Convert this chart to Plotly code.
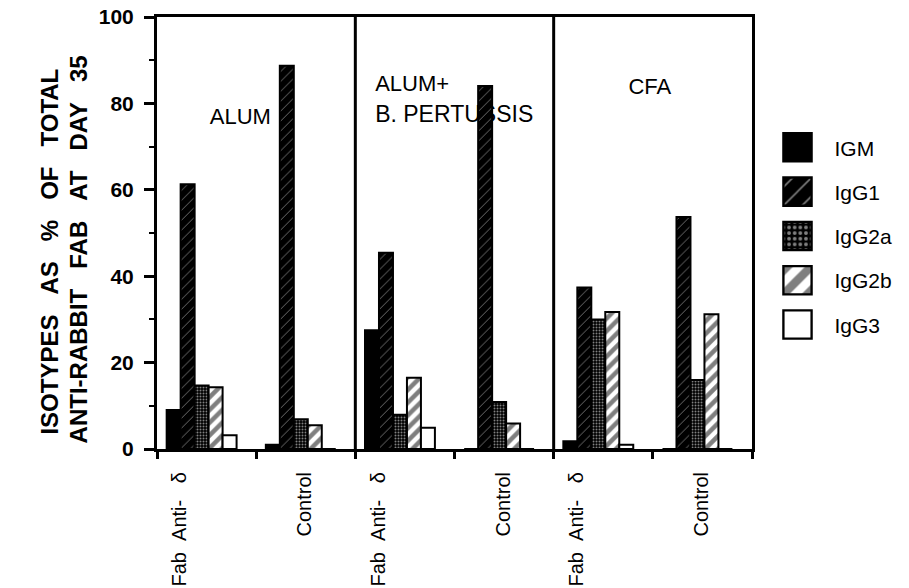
import plotly.graph_objects as go

# Isotype distribution of anti-rabbit Fab antibody at day 35
adjuvants = ["ALUM", "ALUM+ B. PERTUSSIS", "CFA"]
treatments = ["Fab\u00a0\u00a0Anti-\u00a0\u00a0\u00a0δ", "Control"]
isotypes = ["IGM", "IgG1", "IgG2a", "IgG2b", "IgG3"]

# values per isotype, groups ordered: ALUM Fab, ALUM Ctrl, ALUM+BP Fab, ALUM+BP Ctrl, CFA Fab, CFA Ctrl
igm = [9.0, 1.0, 27.5, 0.0, 1.8, 0.0]
igg1 = [61.3, 88.7, 45.4, 84.0, 37.4, 53.7]
igg2a = [14.7, 6.9, 7.9, 10.9, 30.0, 16.0]
igg2b = [14.3, 5.5, 16.5, 5.9, 31.7, 31.2]
igg3 = [3.2, 0.0, 4.9, 0.0, 1.0, 0.0]

y_ticks = [0, 20, 40, 60, 80, 100]

series = [igm, igg1, igg2a, igg2b, igg3]
patterns = [
    dict(shape="", bgcolor="black", fgcolor="black"),
    dict(shape="/", bgcolor="black", fgcolor="white", size=7, solidity=0.12),
    dict(shape=".", bgcolor="black", fgcolor="white", size=3, solidity=0.35),
    dict(shape="/", bgcolor="white", fgcolor="black", size=9, solidity=0.5),
    dict(shape="", bgcolor="white", fgcolor="white"),
]
fills = ["black", "black", "black", "white", "white"]

n_groups = len(adjuvants) * len(treatments)
group_x = [g + 0.45 for g in range(n_groups)]
label_x = [g + (0.23 if g % 2 == 0 else 0.49) for g in range(n_groups)]
label_text = [treatments[g % 2] for g in range(n_groups)]

FONT = "Liberation Sans, Arial, Helvetica, sans-serif"

fig = go.Figure()
for name, vals, pat, fill in zip(isotypes, series, patterns, fills):
    fig.add_trace(go.Bar(
        x=group_x, y=vals, name=name, legendgroup=name,
        marker=dict(color=fill, line=dict(color="black", width=2), pattern=pat),
    ))

# divider lines between adjuvant panels
for d in range(1, len(adjuvants)):
    fig.add_shape(type="line", xref="x", yref="y", x0=2 * d, x1=2 * d, y0=0, y1=100,
                  line=dict(color="black", width=3))

# adjuvant panel titles, drawn beneath the bars
panel_titles = [
    ("ALUM", 0.84, 77.5, "center", 22),
    ("ALUM+", 2.2, 85.1, "left", 22),
    ("B. PERTUSSIS", 2.2, 77.9, "left", 23),
    ("CFA", 4.97, 84.3, "center", 22),
]
for text, px, py, anchor, size in panel_titles:
    fig.add_shape(
        type="rect", xref="x", yref="y", x0=px, x1=px, y0=py, y1=py,
        line=dict(width=0), fillcolor="rgba(0,0,0,0)", layer="below",
        label=dict(text=text, textposition="middle center", xanchor=anchor,
                   yanchor="middle", padding=0,
                   font=dict(family=FONT, size=size, color="black")),
    )

# two-line y axis title
gap = "\u00a0" * 3
title_font = dict(family=FONT, size=24, color="black", weight="bold")
annotations = [
    dict(x=(50 - 157) / 595, y=0.457, xref="paper", yref="paper",
         text=gap.join(["ISOTYPES", "AS", "%", "OF", "TOTAL"]), textangle=-90,
         showarrow=False, xanchor="center", yanchor="middle", font=title_font),
    dict(x=(78 - 157) / 595, y=0.462, xref="paper", yref="paper",
         text=gap.join(["ANTI-RABBIT", "FAB", "AT", "DAY", "35"]), textangle=-90,
         showarrow=False, xanchor="center", yanchor="middle", font=title_font),
]

fig.update_layout(
    width=909, height=588,
    margin=dict(l=157, r=157, t=17, b=139, autoexpand=False),
    paper_bgcolor="white", plot_bgcolor="white",
    barmode="group", bargap=0.295, bargroupgap=0,
    showlegend=True,
    legend=dict(x=(760.5 - 157) / 595, y=0.745, xanchor="left", yanchor="top",
                font=dict(family=FONT, size=21, color="black"),
                itemwidth=64, tracegroupgap=14, bgcolor="rgba(0,0,0,0)"),
    annotations=annotations,
    font=dict(family=FONT, color="black"),
)
fig.update_xaxes(
    range=[0, n_groups], tickvals=label_x, ticktext=label_text, tickangle=-90,
    ticks="", ticklabelstandoff=12, automargin=False,
    tickfont=dict(family=FONT, size=20, color="black"),
    minor=dict(tick0=0, dtick=1, ticks="outside", ticklen=7, tickwidth=2.5, tickcolor="black"),
    showline=True, linewidth=3, linecolor="black", mirror=True,
    showgrid=False, zeroline=False,
)
fig.update_yaxes(
    range=[0, 100], tickvals=y_ticks, ticks="outside", ticklen=10, tickwidth=2.5,
    tickcolor="black", ticklabelstandoff=6, automargin=False,
    tickfont=dict(family=FONT, size=21, color="black", weight="bold"),
    minor=dict(dtick=10, ticks="outside", ticklen=5, tickwidth=2, tickcolor="black"),
    showline=True, linewidth=3, linecolor="black", mirror=True,
    showgrid=False, zeroline=False,
)

# enlarge the legend swatches to square boxes
post_js = """
var gd = document.getElementById('{plot_id}');
gd.querySelectorAll('.legend .traces .legendpoints path').forEach(function(p){
  var t = p.getAttribute('transform') || '';
  p.setAttribute('transform', t + ' scale(2.35)');
  p.style.strokeWidth = '1px';
});
"""

fig.write_html("out.html", post_script=post_js)
